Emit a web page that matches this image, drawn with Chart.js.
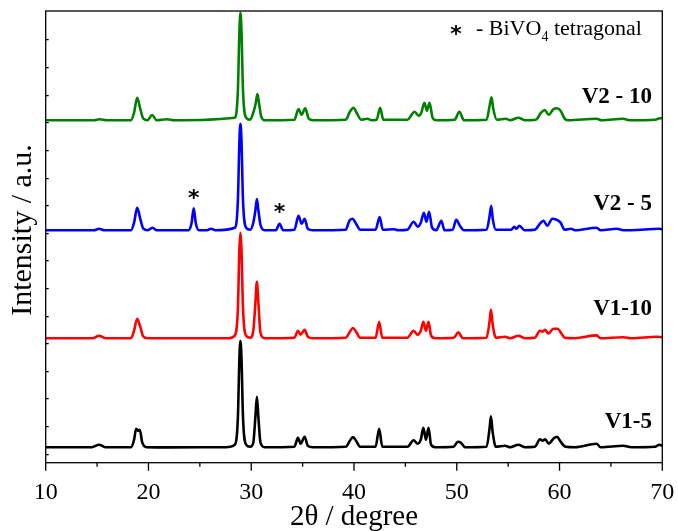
<!DOCTYPE html>
<html>
<head>
<meta charset="utf-8">
<script src="https://cdn.jsdelivr.net/npm/chart.js@4"></script>
<style>
  html, body { margin: 0; padding: 0; background: #fff; }
  canvas { display: block; }
</style>
</head>
<body>
<canvas id="xrd" width="678" height="531"></canvas>
<script>
// XRD patterns, 2θ (degree) vs intensity above each pattern's own baseline (a.u.)

const seriesNames = ['V1-5', 'V1-10', 'V2 - 5', 'V2 - 10'];
const seriesColors = ['#000000', '#ff0000', '#0000ff', '#008000'];
const baselines = [15, 124, 232, 342]; // vertical stacking of the four patterns

const v1_5 = [
  [10, 0.5], [14.5, 0.5], [15.2, 3], [15.8, 0.5],
  [18.3, 0.5], [18.6, 8], [18.8, 19], [19.0, 17], [19.15, 18], [19.4, 5], [19.8, 0.5],
  [22, 0.3], [27.5, 0.5], [28.4, 3], [28.7, 30], [28.85, 90], [28.95, 106.6], [29.05, 90], [29.2, 30], [29.5, 3],
  [29.9, 1], [30.2, 5], [30.4, 30], [30.55, 51], [30.7, 30], [30.9, 5], [31.3, 0.5],
  [34.2, 1], [34.55, 10], [34.8, 4], [35.2, 11], [35.5, 2], [36, 0.5],
  [39.2, 1], [39.6, 7], [39.9, 10.6], [40.2, 7], [40.6, 1],
  [42.1, 1], [42.45, 19], [42.75, 1],
  [45.2, 1], [45.8, 7.5], [46.2, 4], [46.5, 8], [46.75, 20], [47.0, 8], [47.25, 20], [47.5, 3], [47.9, 0.5],
  [49.7, 1], [50.1, 6], [50.4, 5], [50.8, 0.5],
  [52.9, 1], [53.2, 20], [53.32, 31.5], [53.5, 15], [53.8, 1],
  [54.7, 2], [55.2, 0.5], [56.0, 3], [56.6, 0.5],
  [57.6, 1], [58.1, 8.5], [58.35, 7], [58.6, 8.5], [58.95, 4], [59.4, 9], [59.75, 11], [60.1, 6], [60.6, 1],
  [61.5, 0.5], [63.6, 4], [64, 0.5], [66.2, 2], [67, 0.5], [69.3, 1], [69.7, 3], [70, 2]
];

const v1_10 = [
  [10, 0.5], [14.6, 0.5], [15.2, 3], [15.8, 0.5],
  [18.3, 0.5], [18.6, 8], [18.9, 20], [19.2, 12], [19.5, 2], [19.9, 0.5],
  [27.8, 0.5], [28.4, 3], [28.7, 30], [28.85, 90], [28.95, 106], [29.05, 90], [29.2, 30], [29.5, 3],
  [29.9, 1], [30.2, 8], [30.4, 35], [30.55, 57], [30.7, 35], [30.9, 6], [31.3, 0.5],
  [34.2, 1], [34.55, 8], [34.8, 4], [35.2, 9], [35.5, 2], [36, 0.5],
  [39.2, 1], [39.6, 7], [39.9, 10.7], [40.2, 7], [40.6, 1],
  [42.1, 1], [42.45, 16.7], [42.75, 1],
  [45.2, 1], [45.8, 8], [46.2, 4], [46.5, 8], [46.75, 17], [47.0, 8], [47.25, 17], [47.5, 3], [47.9, 0.5],
  [49.7, 1], [50.15, 6.3], [50.6, 0.5],
  [52.9, 1], [53.2, 18], [53.32, 29], [53.5, 14], [53.8, 1],
  [54.7, 2], [55.2, 0.5], [56.0, 3], [56.6, 0.5],
  [57.6, 1], [58.1, 8], [58.35, 7], [58.6, 9], [58.9, 5], [59.4, 10], [59.8, 10], [60.2, 5], [60.5, 1],
  [61.5, 0.5], [63.6, 3.3], [64, 0.5], [66.2, 1.5], [67, 0.5], [69.5, 2], [70, 1.5]
];

const v2_5 = [
  [10, 0.5], [14.7, 0.5], [15.2, 2], [15.7, 0.5],
  [18.3, 0.5], [18.6, 8], [18.9, 23], [19.2, 12], [19.5, 2], [19.9, 0.5], [20.4, 3], [20.8, 0.5],
  [23.9, 0.5], [24.2, 8], [24.4, 22.5], [24.6, 8], [24.9, 0.5],
  [25.7, 0.5], [26.1, 2], [26.5, 0.5],
  [28.4, 3], [28.7, 30], [28.85, 90], [28.95, 107], [29.05, 90], [29.2, 30], [29.5, 3],
  [29.9, 1], [30.2, 8], [30.4, 20], [30.55, 31.7], [30.7, 20], [30.9, 6], [31.3, 0.5],
  [32.4, 0.5], [32.75, 7], [33.1, 0.5],
  [34.2, 1], [34.6, 15], [34.9, 7], [35.2, 12], [35.5, 2], [36, 0.5],
  [39.2, 1], [39.55, 10], [39.85, 12], [40.2, 7], [40.6, 1],
  [42.1, 1], [42.5, 13.7], [42.8, 1],
  [43.9, 1.5], [44.3, 0.5],
  [45.2, 1], [45.8, 9], [46.2, 4], [46.5, 8], [46.8, 18], [47.05, 9], [47.3, 19], [47.6, 3], [48.0, 0.5],
  [48.5, 10], [48.8, 0.5],
  [49.6, 1], [49.95, 11], [50.3, 5], [50.7, 0.5],
  [52.9, 1], [53.2, 15], [53.35, 25], [53.5, 12], [53.8, 1],
  [55.3, 1], [55.6, 4], [55.8, 2], [56.1, 5], [56.6, 0.5],
  [57.6, 1], [58.1, 7], [58.45, 10], [58.8, 5], [59.3, 12], [59.7, 11], [60.1, 8], [60.5, 1],
  [61.1, 2], [61.5, 0.5], [63.6, 3], [64, 0.5], [65.6, 2], [66.2, 0.5], [68, 1], [69.6, 2], [70, 1.5]
];

const v2_10 = [
  [10, 0.5], [14.7, 0.5], [15.2, 1.5], [16, 0.5],
  [18.3, 0.5], [18.6, 8], [18.9, 23], [19.2, 12], [19.5, 2], [19.9, 0.5], [20.35, 5.7], [20.8, 0.5],
  [21.8, 1.5], [22.5, 0.5],
  [28.4, 3], [28.7, 30], [28.85, 90], [28.95, 108], [29.05, 90], [29.2, 30], [29.5, 3],
  [29.9, 1], [30.2, 8], [30.45, 18], [30.6, 26.7], [30.75, 18], [30.95, 5], [31.3, 0.5],
  [34.2, 1], [34.6, 11.7], [34.9, 6], [35.25, 12.4], [35.6, 2], [36, 0.5],
  [39.2, 1], [39.6, 9], [39.95, 13], [40.3, 7], [40.7, 1], [41.3, 2], [41.7, 0.5],
  [42.2, 1], [42.55, 13], [42.85, 1],
  [45.2, 1], [45.9, 9], [46.3, 5], [46.55, 8], [46.85, 18], [47.1, 10], [47.35, 18], [47.65, 3], [48.0, 0.5],
  [49.8, 1], [50.25, 9], [50.7, 0.5],
  [52.9, 1], [53.2, 15], [53.38, 23.4], [53.55, 12], [53.9, 1],
  [54.75, 2], [55.2, 0.5], [56.0, 3], [56.6, 0.5],
  [57.7, 1], [58.2, 8], [58.55, 10.7], [58.95, 6], [59.4, 11.5], [59.75, 12.4], [60.1, 10], [60.5, 2], [60.8, 0.5],
  [63.6, 2], [64.1, 0.5], [66.2, 2], [66.8, 0.5], [69.3, 1], [69.8, 2.5], [70, 2.5]
];

const patterns = [v1_5, v1_10, v2_5, v2_10];

// tick positions
const xTicks = [10, 15, 20, 25, 30, 35, 40, 45, 50, 55, 60, 65, 70];
const yTicks = [8, 36, 64, 91, 119, 146, 174, 202, 229, 257, 284, 312, 340, 367, 395, 423];

// name labels (x, y in data units) and phase markers
const labelSpots = [[69, 41], [69, 154], [69, 259], [69, 366]];
const starPeaks = [[24.4, 268], [32.75, 254]];

const serif = '"Liberation Serif", "Times New Roman", serif';

const framePlugin = {
  id: 'frame',
  afterDraw(chart) {
    const { ctx, chartArea: a, scales: { x, y } } = chart;
    ctx.save();
    ctx.strokeStyle = '#000';
    ctx.lineWidth = 1.3;
    ctx.strokeRect(a.left, a.top, a.right - a.left, a.bottom - a.top);

    ctx.beginPath();
    xTicks.forEach(v => {
      const px = x.getPixelForValue(v);
      const len = v % 10 === 0 ? 8 : 4;
      ctx.moveTo(px, a.bottom);
      ctx.lineTo(px, a.bottom + len);
    });
    yTicks.forEach(v => {
      const py = y.getPixelForValue(v);
      ctx.moveTo(a.left, py);
      ctx.lineTo(a.left + 3, py);
    });
    ctx.stroke();

    ctx.fillStyle = '#000';
    // pattern names
    ctx.font = 'bold 23px ' + serif;
    ctx.textAlign = 'right';
    ctx.textBaseline = 'middle';
    seriesNames.forEach((n, i) => {
      ctx.fillText(n, x.getPixelForValue(labelSpots[i][0]), y.getPixelForValue(labelSpots[i][1]));
    });

    // tetragonal markers
    ctx.font = 'bold 22px "DejaVu Sans", sans-serif';
    ctx.textAlign = 'center';
    starPeaks.forEach(p => {
      ctx.fillText('*', x.getPixelForValue(p[0]), y.getPixelForValue(p[1]) + 5);
    });
    ctx.fillText('*', 456, 35);

    // legend text
    ctx.textAlign = 'left';
    ctx.textBaseline = 'alphabetic';
    let tx = 476;
    ctx.font = '22px ' + serif;
    ctx.fillText('- BiVO', tx, 35);
    tx += ctx.measureText('- BiVO').width;
    ctx.font = '14px ' + serif;
    ctx.fillText('4', tx, 41);
    tx += ctx.measureText('4').width;
    ctx.font = '22px ' + serif;
    ctx.fillText(' tetragonal', tx, 35);

    // axis titles
    ctx.font = '29px ' + serif;
    ctx.textAlign = 'center';
    ctx.fillText('2θ / degree', (a.left + a.right) / 2, 525);
    ctx.translate(31, 230);
    ctx.rotate(-Math.PI / 2);
    ctx.font = '30px ' + serif;
    ctx.fillText('Intensity / a.u.', 0, 0);
    ctx.restore();
  }
};

const datasets = patterns.map((p, i) => ({
  label: seriesNames[i],
  data: p.map(pt => ({ x: pt[0], y: pt[1] + baselines[i] })),
  borderColor: seriesColors[i],
  borderWidth: 2.6,
  pointRadius: 0,
  cubicInterpolationMode: 'monotone',
  borderJoinStyle: 'round',
  fill: false
}));

new Chart(document.getElementById('xrd').getContext('2d'), {
  type: 'line',
  data: { datasets },
  options: {
    responsive: false,
    animation: false,
    devicePixelRatio: 1,
    layout: { padding: { top: 11, right: 15.7, left: 0, bottom: 0 } },
    plugins: { legend: { display: false }, tooltip: { enabled: false } },
    scales: {
      x: {
        type: 'linear',
        min: 10,
        max: 70,
        grid: { display: false },
        border: { display: false },
        ticks: {
          stepSize: 10,
          color: '#000',
          maxRotation: 0,
          padding: 8,
          font: { family: serif, size: 24 }
        },
        afterFit: s => {
          s.height = 68.3;
          s.paddingLeft = 0;
          s.paddingRight = 0;
        }
      },
      y: {
        type: 'linear',
        min: 0,
        max: 451.7,
        grid: { display: false },
        border: { display: false },
        ticks: { display: false },
        afterFit: s => {
          s.width = 45.7;
          s.paddingTop = 0;
          s.paddingBottom = 0;
        }
      }
    }
  },
  plugins: [framePlugin]
});
</script>
</body>
</html>
